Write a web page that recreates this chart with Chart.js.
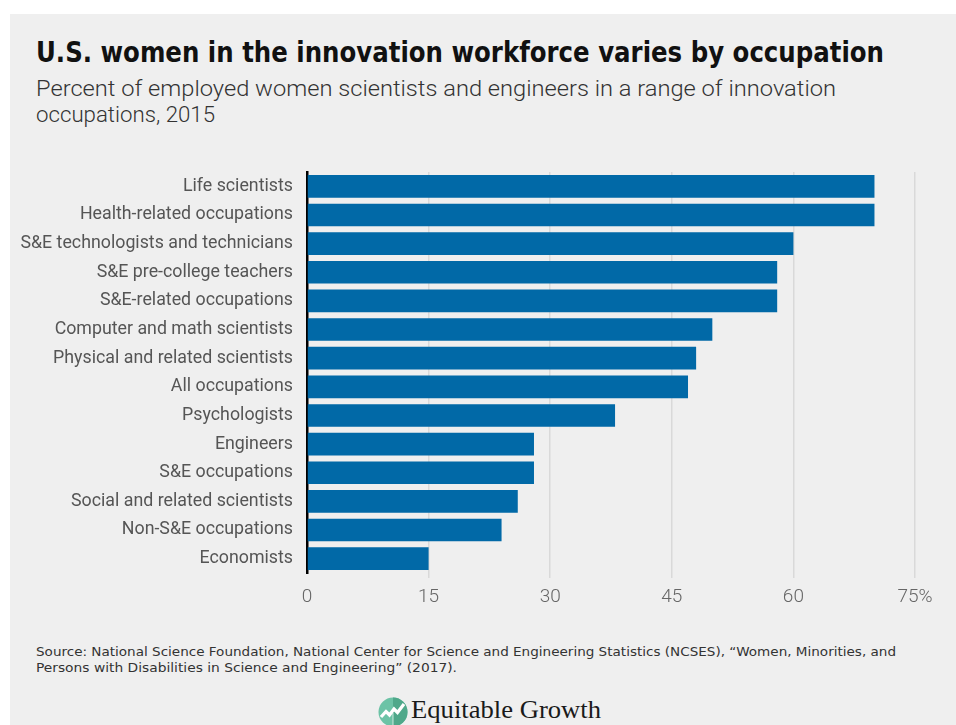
<!DOCTYPE html>
<html>
<head>
<meta charset="utf-8">
<script src="https://cdn.jsdelivr.net/npm/chart.js@4.4.1/dist/chart.umd.min.js"></script>
<style>
  html, body { margin: 0; padding: 0; background: #ffffff; }
  body { width: 956px; height: 725px; position: relative; overflow: hidden; }
  #panel { position: absolute; left: 10px; top: 14px; width: 946px; height: 711px; background: #efefef; }
  .txt { position: absolute; white-space: nowrap; transform-origin: 0 0; }
  .line { display: block; transform-origin: 0 0; white-space: nowrap; }
  #title { left: 36px; top: 35px; font-family: "DejaVu Sans Condensed", "Liberation Sans", sans-serif; font-weight: bold; font-size: 29px; line-height: 34px; color: #111; }
  #subtitle { left: 36px; top: 76px; font-family: Roboto, "Liberation Sans", sans-serif; font-weight: 300; font-size: 22px; line-height: 26px; color: #333; }
  #source { left: 36px; top: 644px; font-family: "DejaVu Sans Condensed", "Liberation Sans", sans-serif; font-size: 13px; line-height: 15.5px; color: #333; }
  #brand { left: 378px; top: 696px; height: 30px; }
  #brand svg { position: absolute; left: 0; top: 1px; }
  #brand span { position: absolute; left: 33px; top: -1px; font-family: "Liberation Serif", "DejaVu Serif", serif; font-size: 25px; line-height: 30px; color: #1a1a1a; }
  #wrap { position: absolute; left: 0; top: 160px; width: 956px; height: 460px; }
</style>
</head>
<body>
<div id="panel"></div>
<div class="txt" id="title"><span class="line" data-w="848">U.S. women in the innovation workforce varies by occupation</span></div>
<div class="txt" id="subtitle"><span class="line" data-w="800">Percent of employed women scientists and engineers in a range of innovation</span><span class="line" data-w="179">occupations, 2015</span></div>
<div id="wrap"><canvas id="c"></canvas></div>
<div class="txt" id="source"><span class="line" data-w="860">Source: National Science Foundation, National Center for Science and Engineering Statistics (NCSES), “Women, Minorities, and</span><span class="line" data-w="421">Persons with Disabilities in Science and Engineering” (2017).</span></div>
<div class="txt" id="brand">
  <svg width="30" height="30" viewBox="0 0 30 30">
    <circle cx="15" cy="15" r="14.5" fill="#6cc3a6"/>
    <path d="M15 0.5 A14.5 14.5 0 0 1 15 29.5 Z" fill="#4fa88a"/>
    <path d="M15 16 L15 29.5" stroke="#e9f5f0" stroke-width="0.8"/>
    <polyline points="3,20 8,14.5 11.5,18 16,12 19.5,15.5 26,7" fill="none" stroke="#ffffff" stroke-width="3.2" stroke-linejoin="miter"/>
  </svg>
  <span class="line" data-w="190">Equitable Growth</span>
</div>
<script>
// Occupations, top to bottom
const categories = [
  "Life scientists",
  "Health-related occupations",
  "S&E technologists and technicians",
  "S&E pre-college teachers",
  "S&E-related occupations",
  "Computer and math scientists",
  "Physical and related scientists",
  "All occupations",
  "Psychologists",
  "Engineers",
  "S&E occupations",
  "Social and related scientists",
  "Non-S&E occupations",
  "Economists"
];
// Share of employed scientists and engineers who are women, percent
const womenShare = [70, 70, 60, 58, 58, 50, 48, 47, 38, 28, 28, 26, 24, 15];
// Horizontal axis ticks
const tickValues = [0, 15, 30, 45, 60, 75];
const tickLabels = ["0", "15", "30", "45", "60", "75%"];

// Squeeze each text line horizontally to its set width
document.querySelectorAll(".line[data-w]").forEach(el => {
  el.style.display = "inline-block";
  const w = el.getBoundingClientRect().width;
  const target = parseFloat(el.dataset.w);
  el.style.transform = "scaleX(" + (target / w) + ")";
  el.style.display = "block";
  el.style.width = w + "px";
});

new Chart(document.getElementById("c"), {
  type: "bar",
  data: {
    labels: categories,
    datasets: [{
      data: womenShare,
      backgroundColor: "#0169a7",
      borderWidth: 0,
      categoryPercentage: 0.79,
      barPercentage: 1.0
    }]
  },
  options: {
    indexAxis: "y",
    responsive: true,
    maintainAspectRatio: false,
    animation: false,
    layout: { padding: { top: 12, right: 41, left: 0, bottom: 0 } },
    plugins: { legend: { display: false }, tooltip: { enabled: false } },
    scales: {
      x: {
        type: "linear",
        min: 0,
        max: 75,
        afterBuildTicks: (scale) => { scale.ticks = tickValues.map(v => ({ value: v })); },
        afterFit: (scale) => { scale.height = 47; scale.paddingLeft = 0; scale.paddingRight = 0; },
        ticks: {
          padding: 8,
          color: "#666",
          font: { family: "Roboto, 'Noto Sans', sans-serif", size: 19, weight: "300" },
          callback: (v) => tickLabels[tickValues.indexOf(v)]
        },
        grid: { color: (ctx) => ctx.tick && ctx.tick.value === 0 ? "rgba(0,0,0,0)" : "#d9d9d9", lineWidth: 1.5, tickLength: 5, drawTicks: true },
        border: { display: false }
      },
      y: {
        afterFit: (scale) => { scale.width = 307; scale.paddingTop = 0; scale.paddingBottom = 0; },
        ticks: { padding: 14, color: "#555", font: { family: "Roboto, 'Noto Sans', sans-serif", size: 17.8 } },
        grid: { display: false, drawTicks: false },
        border: { display: true, color: "#000", width: 2.5 }
      }
    }
  }
});
</script>
</body>
</html>
